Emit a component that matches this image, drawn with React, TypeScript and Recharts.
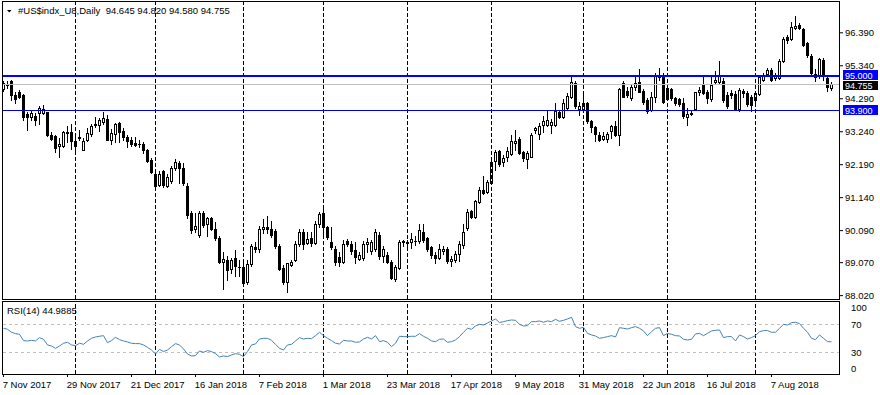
import React from "react";
import { ComposedChart, Bar, Line, XAxis, YAxis, ReferenceLine } from "recharts";

const FONT = "'Liberation Sans', Arial, sans-serif";

// daily bars, 7 Nov 2017 .. 28 Aug 2018
const OPEN = [
  94.59, 94.72, 94.86, 94.41, 94.5, 94.4, 93.82, 93.71, 93.75, 93.84,
  93.85, 93.86, 93.14, 93.11, 92.77, 92.78, 93.19, 93.23, 92.95, 93.04,
  92.67, 92.97, 93.17, 93.45, 93.46, 93.54, 93.66, 92.97, 93.17, 93.53,
  93.25, 93.06, 92.97, 92.87, 92.85, 92.85, 92.67, 92.35, 91.9, 91.55,
  91.98, 91.52, 91.66, 92.08, 92.24, 92.08, 91.52, 90.65, 90.15, 89.96,
  90.65, 90.31, 90.5, 90.14, 89.86, 89.09, 89.15, 88.87, 89.22, 88.94,
  88.93, 88.45, 89.02, 89.56, 89.52, 90.14, 90.22, 90.15, 90.07, 89.6,
  88.9, 88.46, 89.0, 89.15, 89.66, 90.05, 89.7, 89.87, 89.7, 90.31,
  90.65, 90.2, 89.74, 89.52, 89.25, 89.1, 89.77, 89.66, 89.47, 89.2,
  89.22, 89.66, 89.43, 89.5, 89.96, 89.27, 89.3, 89.1, 88.54, 88.9,
  89.73, 89.72, 89.73, 89.75, 89.75, 90.05, 89.85, 89.56, 89.3, 89.22,
  89.43, 89.5, 89.12, 89.15, 89.35, 89.64, 90.17, 90.7, 90.52, 91.0,
  91.39, 91.33, 91.6, 92.3, 92.62, 92.26, 92.43, 92.53, 92.88, 93.01,
  92.58, 92.37, 92.45, 93.3, 93.18, 93.44, 93.46, 93.46, 93.44, 93.86,
  93.71, 93.99, 94.34, 94.79, 93.96, 93.96, 94.17, 93.57, 93.38, 93.14,
  93.01, 93.02, 93.25, 93.43, 93.14, 94.79, 94.55, 94.31, 94.66, 94.81,
  94.55, 94.26, 93.94, 94.36, 94.98, 95.02, 94.63, 94.6, 94.31, 94.28,
  94.15, 93.71, 93.81, 93.96, 94.49, 94.74, 94.49, 94.27, 94.82, 94.81,
  94.84, 94.42, 94.48, 94.45, 93.96, 94.54, 94.47, 94.34, 94.26, 94.44,
  94.9, 95.08, 95.19, 94.95, 94.95, 95.48, 96.25, 96.19, 96.54, 96.64,
  96.51, 96.06, 95.64, 95.07, 95.0, 95.53, 94.95, 94.645,
];
const HIGH = [
  94.84, 94.85, 94.9, 94.51, 94.56, 94.45, 93.87, 93.94, 93.85, 94.05,
  94.1, 93.88, 93.22, 93.14, 93.05, 93.25, 93.43, 93.49, 93.2, 93.3,
  93.03, 93.36, 93.49, 93.71, 93.68, 93.86, 93.78, 93.33, 93.53, 93.55,
  93.35, 93.14, 93.06, 93.06, 92.98, 92.9, 92.7, 92.4, 92.0, 92.0,
  92.03, 91.88, 92.14, 92.38, 92.32, 92.24, 91.62, 90.7, 90.65, 90.7,
  90.7, 90.52, 90.52, 90.38, 89.92, 89.4, 89.27, 89.22, 89.47, 89.15,
  89.06, 89.16, 89.66, 89.72, 90.25, 90.46, 90.55, 90.4, 90.14, 89.66,
  89.0, 89.06, 89.15, 89.75, 90.14, 90.14, 90.05, 90.05, 90.4, 90.67,
  90.86, 90.25, 90.2, 89.6, 89.4, 89.8, 89.83, 89.77, 89.72, 89.4,
  89.75, 89.86, 89.8, 90.14, 90.05, 89.6, 89.4, 89.15, 89.0, 89.8,
  89.8, 89.8, 90.0, 89.93, 90.3, 90.3, 89.9, 89.6, 89.4, 89.66,
  89.6, 89.56, 89.27, 89.45, 89.75, 90.3, 90.78, 90.75, 91.08, 91.48,
  91.83, 91.7, 92.42, 92.66, 92.66, 92.5, 92.76, 93.14, 93.28, 93.06,
  92.62, 92.62, 93.2, 93.4, 93.52, 93.73, 93.94, 93.64, 94.15, 93.94,
  94.28, 94.47, 95.02, 94.84, 94.2, 94.49, 94.2, 93.62, 93.43, 93.22,
  93.22, 93.22, 93.46, 93.57, 94.62, 94.84, 94.68, 94.74, 95.02, 95.23,
  94.6, 94.31, 94.52, 95.11, 95.27, 95.11, 94.74, 94.63, 94.36, 94.31,
  94.31, 93.99, 93.94, 94.52, 94.68, 95.05, 94.58, 94.99, 95.18, 95.48,
  94.95, 94.5, 94.56, 94.55, 94.62, 94.6, 94.55, 94.42, 94.52, 95.03,
  95.12, 95.28, 95.26, 95.1, 95.55, 96.25, 96.32, 96.72, 96.91, 96.71,
  96.54, 96.1, 95.7, 95.23, 95.6, 95.58, 95.0, 94.82,
];
const LOW = [
  94.55, 94.62, 94.25, 94.16, 94.3, 93.62, 93.28, 93.62, 93.46, 93.48,
  93.82, 93.1, 92.98, 92.6, 92.43, 92.75, 92.9, 92.69, 92.6, 92.98,
  92.65, 92.93, 93.09, 93.39, 93.25, 93.5, 92.97, 92.86, 92.9, 92.9,
  92.98, 92.75, 92.8, 92.78, 92.75, 92.57, 92.26, 91.93, 91.5, 91.5,
  91.48, 91.48, 91.62, 92.02, 91.62, 91.55, 90.49, 90.03, 90.05, 89.9,
  90.22, 89.93, 90.1, 89.8, 89.05, 88.24, 88.52, 88.74, 88.63, 88.63,
  88.34, 88.4, 88.97, 89.4, 89.4, 90.03, 90.0, 89.9, 89.55, 88.84,
  88.4, 88.13, 88.96, 89.12, 89.6, 89.5, 89.65, 89.6, 89.65, 90.2,
  89.9, 89.83, 89.5, 89.0, 88.95, 89.05, 89.6, 89.35, 89.05, 89.16,
  89.16, 89.4, 89.35, 89.43, 89.2, 89.1, 89.05, 88.55, 88.5, 88.88,
  89.6, 89.5, 89.55, 89.64, 89.7, 89.72, 89.45, 89.22, 89.06, 89.18,
  89.35, 89.07, 88.95, 89.1, 89.13, 89.55, 90.1, 90.48, 90.48, 90.96,
  91.27, 91.28, 91.58, 92.03, 92.14, 92.14, 92.3, 92.5, 92.66, 92.52,
  92.3, 92.1, 92.43, 93.2, 93.01, 93.22, 93.41, 93.2, 93.41, 93.68,
  93.68, 93.94, 94.31, 93.99, 93.78, 93.92, 93.52, 93.22, 92.93, 92.93,
  92.98, 92.9, 93.05, 93.11, 92.82, 94.34, 94.36, 94.26, 94.58, 94.52,
  94.13, 93.85, 93.89, 94.2, 94.9, 94.17, 94.26, 94.26, 94.1, 94.05,
  93.67, 93.46, 93.78, 93.94, 94.42, 94.45, 94.15, 94.22, 94.78, 94.76,
  94.2, 94.0, 94.3, 93.92, 93.9, 94.35, 94.05, 93.9, 94.2, 94.4,
  94.85, 95.02, 94.85, 94.9, 94.92, 95.45, 96.08, 96.16, 96.51, 96.5,
  95.97, 95.62, 95.05, 94.84, 94.95, 94.9, 94.55, 94.58,
];
const CLOSE = [
  94.79, 94.74, 94.41, 94.27, 94.36, 93.72, 93.72, 93.85, 93.6, 94.0,
  93.97, 93.13, 93.0, 92.72, 92.85, 93.22, 93.23, 92.93, 92.78, 93.06,
  92.94, 93.2, 93.41, 93.47, 93.6, 93.68, 92.99, 93.2, 93.49, 93.23,
  93.06, 92.95, 92.84, 92.83, 92.84, 92.65, 92.32, 91.95, 91.52, 91.9,
  91.55, 91.8, 92.08, 92.26, 92.08, 91.62, 90.6, 90.12, 90.23, 90.65,
  90.28, 90.5, 90.15, 89.86, 89.1, 89.19, 88.85, 89.15, 88.97, 88.92,
  88.43, 89.03, 89.6, 89.5, 90.14, 90.19, 90.15, 89.96, 89.6, 88.87,
  88.45, 89.05, 89.1, 89.66, 90.05, 89.66, 89.81, 89.7, 90.31, 90.62,
  90.2, 89.9, 89.57, 89.1, 89.1, 89.66, 89.66, 89.43, 89.25, 89.3,
  89.66, 89.74, 89.74, 90.05, 89.27, 89.5, 89.1, 88.58, 88.94, 89.74,
  89.75, 89.7, 89.83, 89.77, 90.1, 89.8, 89.5, 89.3, 89.22, 89.5,
  89.52, 89.12, 89.2, 89.36, 89.66, 90.05, 90.68, 90.54, 91.04, 91.39,
  91.3, 91.65, 92.28, 92.6, 92.22, 92.4, 92.64, 92.95, 92.95, 92.56,
  92.4, 92.55, 93.14, 93.36, 93.41, 93.57, 93.62, 93.54, 93.89, 93.71,
  94.17, 94.38, 94.81, 94.05, 94.07, 94.17, 93.57, 93.39, 93.18, 92.98,
  93.11, 93.18, 93.43, 93.14, 94.6, 94.36, 94.42, 94.66, 94.79, 94.52,
  94.2, 93.89, 94.36, 95.02, 95.05, 94.2, 94.28, 94.31, 94.17, 94.13,
  93.73, 93.81, 93.85, 94.49, 94.58, 94.47, 94.31, 94.73, 94.88, 95.0,
  94.26, 94.07, 94.4, 93.96, 94.58, 94.47, 94.13, 94.1, 94.47, 94.99,
  95.05, 95.21, 94.9, 95.02, 95.48, 96.19, 96.15, 96.57, 96.61, 96.54,
  96.01, 95.69, 95.11, 94.98, 95.55, 95.0, 94.66, 94.755,
];
const RSI = [
  64.3, 62.9, 58.6, 56.7, 55.7, 46.7, 46.2, 47.1, 46.2, 51.0,
  48.6, 40.5, 39.0, 35.7, 39.0, 42.9, 44.3, 40.5, 39.5, 42.9,
  41.4, 46.2, 50.0, 51.9, 52.9, 53.8, 43.8, 46.7, 51.4, 48.1,
  46.2, 44.8, 42.9, 42.4, 42.4, 40.5, 37.1, 33.3, 27.6, 34.3,
  31.0, 33.3, 38.1, 42.4, 40.5, 34.8, 27.6, 24.8, 25.2, 31.9,
  30.0, 32.4, 31.0, 28.1, 23.3, 24.8, 23.8, 26.2, 28.1, 27.1,
  23.8, 31.0, 40.5, 41.9, 49.0, 50.0, 50.0, 47.1, 41.4, 35.7,
  33.3, 40.5, 41.4, 46.2, 51.0, 49.0, 50.0, 49.5, 53.8, 58.6,
  53.8, 50.0, 46.7, 42.9, 41.9, 47.1, 46.2, 46.2, 44.3, 44.8,
  49.0, 51.4, 49.0, 53.8, 45.2, 46.7, 44.3, 38.1, 42.9, 52.9,
  52.4, 52.4, 52.9, 52.9, 56.7, 52.9, 50.0, 46.2, 45.2, 48.6,
  49.0, 44.3, 45.2, 47.6, 52.4, 58.6, 64.3, 62.9, 67.6, 70.0,
  69.0, 71.9, 74.8, 77.6, 72.4, 73.8, 75.2, 76.2, 75.7, 70.0,
  67.6, 68.1, 73.8, 73.8, 74.8, 72.9, 74.8, 73.8, 77.1, 74.3,
  75.7, 77.6, 80.0, 66.7, 64.3, 65.7, 57.1, 54.8, 53.3, 50.0,
  51.0, 52.4, 53.8, 51.9, 65.2, 64.3, 63.3, 65.2, 66.7, 64.3,
  60.5, 53.8, 59.5, 64.3, 65.2, 53.8, 57.1, 55.7, 53.8, 53.3,
  48.6, 47.6, 48.6, 56.2, 57.1, 53.8, 57.1, 60.5, 61.4, 61.9,
  51.0, 52.4, 52.4, 46.2, 54.8, 52.4, 49.0, 51.0, 53.8, 59.5,
  61.0, 61.0, 58.6, 58.6, 64.3, 70.0, 69.0, 72.4, 72.9, 71.0,
  64.3, 58.6, 50.0, 48.1, 54.8, 50.0, 45.2, 44.99,
];

const DATE_LABELS = [
  "7 Nov 2017", "29 Nov 2017", "21 Dec 2017", "16 Jan 2018", "7 Feb 2018",
  "1 Mar 2018", "23 Mar 2018", "17 Apr 2018", "9 May 2018", "31 May 2018",
  "22 Jun 2018", "16 Jul 2018", "7 Aug 2018",
];
const DATE_BARS = [0, 16, 32, 48, 64, 80, 96, 112, 128, 144, 160, 176, 192];
const MONTH_STARTS = [18, 38, 60, 80, 101, 122, 145, 166, 188];
const PRICE_TICKS = [96.39, 95.34, 94.29, 93.24, 92.19, 91.14, 90.09, 89.07, 88.02];
const RSI_TICKS = [100, 70, 30, 0];
const RSI_LEVELS = [70, 30];
const RESISTANCE = 95.0;
const SUPPORT = 93.9;
const BID = 94.755;

const X_DOMAIN = [-0.375, 209.125];
const PRICE_DOMAIN = [87.913, 97.371];
const RSI_DOMAIN = [-1, 101.86];

const data = OPEN.map((o, i) => ({
  i,
  hl: [LOW[i], HIGH[i]],
  o,
  h: HIGH[i],
  l: LOW[i],
  c: CLOSE[i],
  rsi: RSI[i],
}));

function Candle(props: any) {
  const { x, y, width, height, payload } = props;
  if (x == null || !payload || !height) return null;
  const col = Math.round(x + width / 2 - 0.5);
  const k = height / (payload.h - payload.l);
  const py = (v: number) => y + (payload.h - v) * k;
  const hi = Math.round(y);
  const lo = Math.round(y + height);
  const top = Math.round(py(Math.max(payload.o, payload.c)));
  let bot = Math.round(py(Math.min(payload.o, payload.c)));
  if (bot < top) bot = top;
  const bull = payload.c >= payload.o;
  return (
    <g shapeRendering="crispEdges">
      <rect x={col} y={hi} width={1} height={lo - hi + 1} fill="#000" />
      <rect x={col - 1} y={top} width={3} height={bot - top + 1} fill="#000" />
      {bull && bot - top >= 2 && (
        <rect x={col} y={top + 1} width={1} height={bot - top - 1} fill="#fff" />
      )}
    </g>
  );
}

function PriceTick(props: any) {
  const { x, y, payload } = props;
  return (
    <text x={x} y={y + 3} fontSize={9.5} fontFamily={FONT} fill="#000" textAnchor="start">
      {Number(payload.value).toFixed(3)}
    </text>
  );
}

function PriceTag(props: any) {
  const { viewBox, text, bg, dy = 0, top = 5, bottom = 5 } = props;
  if (!viewBox) return null;
  const x = viewBox.x + viewBox.width + 3;
  const cy = Math.round(viewBox.y + dy);
  return (
    <g shapeRendering="crispEdges">
      <rect x={x} y={cy - top} width={35} height={top + bottom} fill={bg} />
      <text x={x + 2} y={cy + 3.5} fontSize={9} fontFamily={FONT} fill="#fff">
        {text}
      </text>
    </g>
  );
}

function RsiTick(props: any) {
  const { x, y, payload } = props;
  const v = payload.value;
  const shift = v === 100 ? 4.5 : v === 0 ? -5 : 0;
  return (
    <text x={x} y={y + 3.5 + shift} fontSize={9.5} fontFamily={FONT} fill="#000" textAnchor="start">
      {v}
    </text>
  );
}

function DateTick(props: any) {
  const { x, y, payload } = props;
  const idx = DATE_BARS.indexOf(payload.value);
  return (
    <text x={x - 0.8} y={y + 10.5} fontSize={9.5} fontFamily={FONT} fill="#000" textAnchor="start">
      {DATE_LABELS[idx]}
    </text>
  );
}

export default function App() {
  return (
    <div style={{ position: "relative", width: 880, height: 395, background: "#fff", overflow: "hidden" }}>
      <style>{"body{margin:0;background:#fff}"}</style>
      <div style={{ position: "absolute", left: 0, top: 0 }}>
        <ComposedChart width={880} height={300} data={data} margin={{ top: 2, right: 0, bottom: 1, left: 2 }}>
          <XAxis type="number" dataKey="i" domain={X_DOMAIN} allowDataOverflow hide />
          <YAxis
            orientation="right"
            width={40}
            domain={PRICE_DOMAIN}
            ticks={PRICE_TICKS}
            interval={0}
            allowDataOverflow
            axisLine={false}
            tickSize={3}
            tickMargin={2}
            tickLine={{ stroke: "#000" }}
            tick={<PriceTick />}
          />
          {MONTH_STARTS.map((m) => (
            <ReferenceLine key={m} x={m} stroke="#000" strokeDasharray="4 2" shapeRendering="crispEdges" />
          ))}
          <Bar dataKey="hl" barSize={3} shape={Candle} isAnimationActive={false} />
          <ReferenceLine
            y={RESISTANCE}
            stroke="#0000ff"
            strokeWidth={2}
            shapeRendering="crispEdges"
            label={<PriceTag text={RESISTANCE.toFixed(3)} bg="#0000ff" dy={-1.5} top={5} bottom={5} />}
          />
          <ReferenceLine
            y={BID}
            stroke="#c0c0c0"
            shapeRendering="crispEdges"
            label={<PriceTag text={BID.toFixed(3)} bg="#000" dy={1} top={4} bottom={5} />}
          />
          <ReferenceLine
            y={SUPPORT}
            stroke="#0000e0"
            shapeRendering="crispEdges"
            label={<PriceTag text={SUPPORT.toFixed(3)} bg="#0000ff" dy={-1} top={5} bottom={5} />}
          />
        </ComposedChart>
      </div>
      <div style={{ position: "absolute", left: 0, top: 301 }}>
        <ComposedChart width={880} height={94} data={data} margin={{ top: 1, right: 0, bottom: 0, left: 2 }}>
          <XAxis
            type="number"
            dataKey="i"
            domain={X_DOMAIN}
            allowDataOverflow
            ticks={DATE_BARS}
            interval={0}
            axisLine={false}
            tickSize={3}
            tickMargin={0}
            tickLine={{ stroke: "#000" }}
            tick={<DateTick />}
            height={21}
          />
          <YAxis
            orientation="right"
            width={40}
            domain={RSI_DOMAIN}
            ticks={RSI_TICKS}
            interval={0}
            allowDataOverflow
            axisLine={false}
            tickLine={false}
            tickMargin={5}
            tick={<RsiTick />}
          />
          {MONTH_STARTS.map((m) => (
            <ReferenceLine key={m} x={m} stroke="#000" strokeDasharray="4 2" shapeRendering="crispEdges" />
          ))}
          {RSI_LEVELS.map((v) => (
            <ReferenceLine key={v} y={v} stroke="#c0c0c0" strokeDasharray="3 3" shapeRendering="crispEdges" />
          ))}
          <Line type="linear" dataKey="rsi" stroke="#4682b4" strokeWidth={1} dot={false} isAnimationActive={false} />
        </ComposedChart>
      </div>
      <svg
        width={880}
        height={395}
        style={{ position: "absolute", left: 0, top: 0, pointerEvents: "none" }}
      >
        <g shapeRendering="crispEdges" fill="none" stroke="#000">
          <rect x={2.5} y={1.5} width={837} height={298} />
          <rect x={2.5} y={301.5} width={837} height={73} />
        </g>
        <path d="M7 10 L11.5 10 L9.25 12.5 Z" fill="#000" />
        <text x={18} y={14} fontSize={9.5} fontFamily={FONT} fill="#000" style={{ whiteSpace: "pre" }}>
          {"#US$indx_U8,Daily  94.645 94.820 94.580 94.755"}
        </text>
        <text x={7} y={313.5} fontSize={9.5} fontFamily={FONT} fill="#000">
          RSI(14) 44.9885
        </text>
      </svg>
    </div>
  );
}
